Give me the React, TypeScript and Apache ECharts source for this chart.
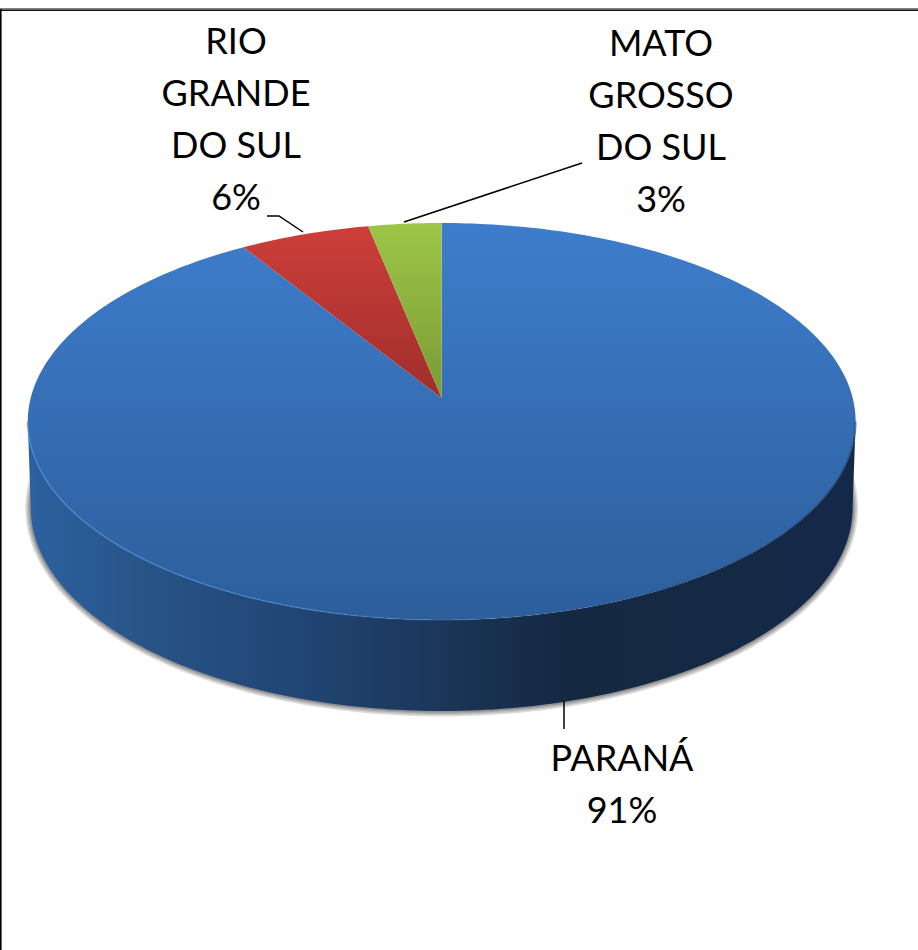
import React, { useEffect, useRef } from "react";
import * as echarts from "echarts";

// Data
const categories = ["PARANÁ", "RIO\nGRANDE\nDO SUL", "MATO\nGROSSO\nDO SUL"];
const shares = [91.1, 5.7, 3.2];

// Styles
const topGradients = [
  ["#3e7dcc", "#2c5e9b"],
  ["#cd3e3a", "#9f2e2b"],
  ["#9dc647", "#7b9a36"],
];
const sideStops = [
  [0, "#2c619f"],
  [0.14, "#285488"],
  [0.33, "#214574"],
  [0.5, "#1b3659"],
  [0.65, "#152842"],
  [0.82, "#142943"],
  [1, "#14294a"],
];

// Projection of the disc: perspective maps the unit circle to the screen
const CX = 441.7;
const APEX_Y = 398;
const PERSPECTIVE = 0.1184;
const A = 411;
const B = 195.7;
const BASE_SCALE_X = 0.9928;
const BASE_SCALE_Y = 1.0227;
const BASE_Y = 484;
const FRONT_FROM = 96.8;
const FRONT_TO = 263.2;

const rad = (d: number) => (d * Math.PI) / 180;
function topPoint(deg: number): number[] {
  const u = Math.sin(rad(deg));
  const v = -Math.cos(rad(deg));
  const w = 1 - PERSPECTIVE * v;
  return [CX + (A * u) / w, APEX_Y + (B * v) / w];
}
function basePoint(deg: number): number[] {
  const u = Math.sin(rad(deg));
  const v = -Math.cos(rad(deg));
  const w = 1 - PERSPECTIVE * v;
  return [CX + (A * BASE_SCALE_X * u) / w, BASE_Y + (B * BASE_SCALE_Y * v) / w];
}
function arc(fn: (d: number) => number[], from: number, to: number): number[][] {
  const n = Math.max(2, Math.ceil(Math.abs(to - from)));
  const pts: number[][] = [];
  for (let i = 0; i <= n; i++) pts.push(fn(from + ((to - from) * i) / n));
  return pts;
}

// Label placement, by category index
const labelCentres = [
  [622, 782.5],
  [236, 118],
  [661, 119.5],
];
const leaders = [
  [[564, 701], [564, 729]],
  [[303, 232], [279, 216], [267, 216]],
  [[404, 222], [582, 163]],
];
const shadowWidths = [11, 8, 5, 3];

const total = shares.reduce((a, b) => a + b, 0);

function renderItem(params: any, api: any) {
  const i = params.dataIndex;
  const before = shares.slice(0, i).reduce((a, b) => a + b, 0);
  const a0 = (before / total) * 360;
  const a1 = ((before + api.value(0)) / total) * 360;
  const children: any[] = [];

  const sFrom = Math.max(a0, FRONT_FROM);
  const sTo = Math.min(a1, FRONT_TO);
  if (sTo > sFrom) {
    shadowWidths.forEach((lineWidth) => {
      children.push({
        type: "polyline",
        shape: { points: arc(basePoint, sFrom - 8, sTo + 8) },
        style: { fill: "none", stroke: "rgba(0,0,0,0.13)", lineWidth },
      });
    });
    const pts = arc(topPoint, sFrom, sTo).concat(arc(basePoint, sTo, sFrom));
    children.push({
      type: "polygon",
      shape: { points: pts },
      style: {
        fill: {
          type: "linear",
          x: 0,
          y: 0,
          x2: 1,
          y2: 0,
          colorStops: sideStops.map(([offset, color]) => ({ offset, color })),
        },
      },
    });
  }

  const [c0, c1] = topGradients[i];
  children.push({
    type: "polygon",
    shape: { points: [[CX, APEX_Y], ...arc(topPoint, a0, a1)] },
    style: {
      fill: {
        type: "linear",
        x: 0,
        y: 0,
        x2: 0,
        y2: 1,
        colorStops: [
          { offset: 0, color: c0 },
          { offset: 1, color: c1 },
        ],
      },
    },
  });

  if (sTo > sFrom) {
    // soft bevel along the front rim: dark on the right, light on the left
    children.push({
      type: "polyline",
      shape: { points: arc(topPoint, sFrom, sFrom + 70) },
      style: {
        fill: "none",
        lineWidth: 2,
        stroke: {
          type: "linear",
          x: 1,
          y: 0,
          x2: 0,
          y2: 0,
          colorStops: [
            { offset: 0, color: "rgba(30,60,105,0.55)" },
            { offset: 1, color: "rgba(30,60,105,0)" },
          ],
        },
      },
    });
    children.push({
      type: "polyline",
      shape: { points: arc(topPoint, sFrom + 70, sTo) },
      style: {
        fill: "none",
        lineWidth: 1.5,
        stroke: {
          type: "linear",
          x: 0,
          y: 0,
          x2: 1,
          y2: 0,
          colorStops: [
            { offset: 0, color: "rgba(74,138,212,0.85)" },
            { offset: 0.6, color: "rgba(74,138,212,0.45)" },
            { offset: 1, color: "rgba(74,138,212,0)" },
          ],
        },
      },
    });
  }

  children.push({
    type: "polyline",
    shape: { points: leaders[i] },
    style: { fill: "none", stroke: "#000", lineWidth: 1.5 },
  });
  children.push({
    type: "text",
    x: labelCentres[i][0],
    y: labelCentres[i][1],
    style: {
      text: `${categories[i]}\n${Math.round(api.value(0))}%`,
      font: "36px Lato, sans-serif",
      lineHeight: 52,
      fill: "#000",
      align: "center",
      verticalAlign: "middle",
    },
  });
  return { type: "group", children };
}

export default function App() {
  const ref = useRef<HTMLDivElement>(null);
  useEffect(() => {
    const chart = echarts.init(ref.current!, undefined, { renderer: "svg" });
    chart.setOption({
      animation: false,
      backgroundColor: "#fff",
      graphic: [
        { type: "rect", shape: { x: 0, y: 8, width: 918, height: 1.5 }, style: { fill: "#808080" } },
        { type: "rect", shape: { x: 0, y: 9.5, width: 918, height: 1.5 }, style: { fill: "#111" } },
        { type: "rect", shape: { x: 0, y: 9, width: 1.6, height: 941 }, style: { fill: "#000" } },
      ],
      series: [
        {
          type: "custom",
          coordinateSystem: "none",
          renderItem,
          data: shares.map((v, i) => ({ name: categories[i], value: [v] })),
          silent: true,
        },
      ],
    });
    return () => chart.dispose();
  }, []);
  return (
    <div
      ref={ref}
      style={{ position: "absolute", left: 0, top: 0, width: 918, height: 950 }}
    />
  );
}
